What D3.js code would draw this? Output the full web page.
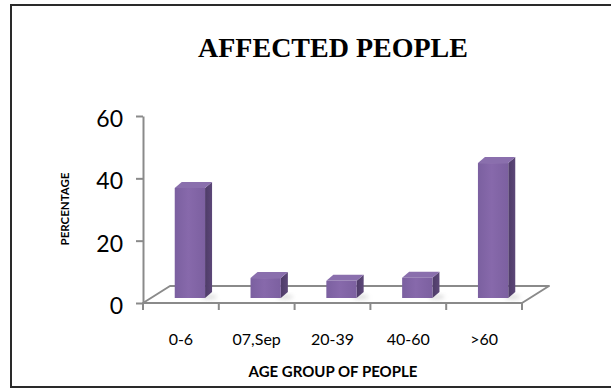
<!DOCTYPE html>
<html>
<head>
<meta charset="utf-8">
<script src="https://cdn.jsdelivr.net/npm/d3@7"></script>
<style>
  html, body { margin: 0; padding: 0; background: #fff; }
  svg { display: block; }
</style>
</head>
<body>
<svg id="chart" width="611" height="390"></svg>
<script>
// Share of affected people per age group (%)
const categories = ["0-6", "07,Sep", "20-39", "40-60", ">60"];
const values = [35.3, 6.4, 5.5, 6.5, 43.3];
const yTicks = [0, 20, 40, 60];

const chartTitle = "AFFECTED PEOPLE";
const xTitle = "AGE GROUP OF PEOPLE";
const yTitle = "PERCENTAGE";

const svg = d3.select("#chart");

// plot frame (front plane of the 3-D box)
const plot = { left: 143, right: 522, top: 116, bottom: 303 };
const floorDepth = { dx: 27, dy: -17 };   // oblique offset of the floor's back edge
const barShift = { dx: 9, dy: -5 };       // bars stand a little way into the floor
const barDepth = { dx: 7, dy: -6 };       // visible depth of each column

const x = d3.scaleBand().domain(categories).range([plot.left, plot.right]).paddingInner(0).paddingOuter(0);
const y = d3.scaleLinear().domain([0, 60]).range([plot.bottom, plot.top]);

const axisColor = "#8a8a8a";

// outer border (right edge runs past the canvas)
svg.append("rect")
  .attr("x", 11).attr("y", 5)
  .attr("width", 640).attr("height", 382)
  .attr("fill", "none").attr("stroke", "#2a2a2a").attr("stroke-width", 2);

// title
svg.append("text")
  .attr("x", 333).attr("y", 57)
  .attr("text-anchor", "middle")
  .attr("font-family", "'Liberation Serif', 'Times New Roman', serif")
  .attr("font-weight", "bold")
  .attr("font-size", 28)
  .attr("fill", "#000")
  .text(chartTitle);

// floor (parallelogram)
const f0 = [plot.left, y(0)], f1 = [plot.right, y(0)];
const floorPts = [
  f0, f1,
  [f1[0] + floorDepth.dx, f1[1] + floorDepth.dy],
  [f0[0] + floorDepth.dx, f0[1] + floorDepth.dy]
];
svg.append("polygon")
  .attr("points", floorPts.map(p => p.join(",")).join(" "))
  .attr("fill", "#fff")
  .attr("stroke", axisColor).attr("stroke-width", 2).attr("stroke-linejoin", "round");

// y axis
const yAxis = d3.axisLeft(y).tickValues(yTicks).tickSize(7).tickPadding(13).tickSizeOuter(0);
const gy = svg.append("g").attr("transform", `translate(${plot.left},0)`).call(yAxis);
gy.select(".domain").attr("stroke", axisColor).attr("stroke-width", 2);
gy.selectAll(".tick line").attr("stroke", axisColor).attr("stroke-width", 2);
gy.selectAll(".tick text")
  .attr("font-family", "Lato, 'Open Sans', sans-serif")
  .attr("font-size", 23).attr("fill", "#000").attr("dy", "0.45em");

// x axis ticks at category boundaries
const boundaries = categories.map(c => x(c)).concat([plot.right]);
svg.append("g").selectAll("line").data(boundaries).join("line")
  .attr("x1", d => d).attr("x2", d => d)
  .attr("y1", y(0)).attr("y2", y(0) + 7)
  .attr("stroke", axisColor).attr("stroke-width", 2);

// x labels
svg.append("g").selectAll("text").data(categories).join("text")
  .attr("x", d => x(d) + x.bandwidth() / 2)
  .attr("y", 345)
  .attr("text-anchor", "middle")
  .attr("font-family", "Lato, 'Open Sans', sans-serif")
  .attr("font-size", 16).attr("fill", "#000")
  .text(d => d);

// axis titles
svg.append("text")
  .attr("x", 333).attr("y", 377)
  .attr("text-anchor", "middle")
  .attr("font-family", "Lato, 'Open Sans', sans-serif")
  .attr("font-weight", "bold").attr("font-size", 15).attr("fill", "#000")
  .text(xTitle);

svg.append("text")
  .attr("transform", "translate(69,209) rotate(-90)")
  .attr("text-anchor", "middle")
  .attr("font-family", "Lato, 'Open Sans', sans-serif")
  .attr("font-weight", "bold").attr("font-size", 11.5).attr("fill", "#000")
  .text(yTitle);

// gradients for the columns
const defs = svg.append("defs");
const gFront = defs.append("linearGradient").attr("id", "front").attr("x1", 0).attr("x2", 1).attr("y1", 0).attr("y2", 0);
gFront.append("stop").attr("offset", "0%").attr("stop-color", "#7b60a0");
gFront.append("stop").attr("offset", "45%").attr("stop-color", "#8769ab");
gFront.append("stop").attr("offset", "100%").attr("stop-color", "#7c60a0");
const gSide = defs.append("linearGradient").attr("id", "side").attr("x1", 0).attr("x2", 1).attr("y1", 0).attr("y2", 0);
gSide.append("stop").attr("offset", "0%").attr("stop-color", "#4e3b68");
gSide.append("stop").attr("offset", "100%").attr("stop-color", "#5c4778");
const shadow = defs.append("filter").attr("id", "soft").attr("x", "-50%").attr("y", "-50%").attr("width", "200%").attr("height", "200%");
shadow.append("feGaussianBlur").attr("stdDeviation", 2);

// columns
const barW = x.bandwidth() * 0.4;
const bars = svg.append("g").selectAll("g").data(categories.map((c, i) => ({ c, v: values[i] }))).join("g");

bars.each(function (d) {
  const g = d3.select(this);
  const x0 = x(d.c) + (x.bandwidth() - barW) / 2 + barShift.dx;
  const x1 = x0 + barW;
  const yb = y(0) + barShift.dy;
  const yt = yb - (y(0) - y(d.v));
  const dx = barDepth.dx, dy = barDepth.dy;

  // faint floor shadow
  g.append("ellipse")
    .attr("cx", x1 + 4).attr("cy", yb - 1)
    .attr("rx", 8).attr("ry", 2.5)
    .attr("fill", "#cfcfcf").attr("opacity", 0.7)
    .attr("filter", "url(#soft)");

  // side face
  g.append("polygon")
    .attr("points", [[x1, yt], [x1 + dx, yt + dy], [x1 + dx, yb + dy], [x1, yb]].map(p => p.join(",")).join(" "))
    .attr("fill", "url(#side)");
  // top face
  g.append("polygon")
    .attr("points", [[x0, yt], [x1, yt], [x1 + dx, yt + dy], [x0 + dx, yt + dy]].map(p => p.join(",")).join(" "))
    .attr("fill", "#8a6fad");
  // front face
  g.append("rect")
    .attr("x", x0).attr("y", yt)
    .attr("width", barW).attr("height", yb - yt)
    .attr("fill", "url(#front)");
});
</script>
</body>
</html>
